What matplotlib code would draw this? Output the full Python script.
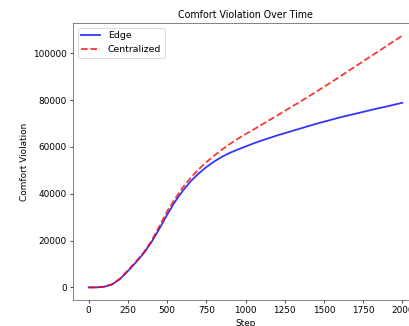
import matplotlib
matplotlib.use("Agg")
import matplotlib.pyplot as plt

steps = [0, 50, 100, 150, 200, 250, 300, 350, 400, 450, 500, 550, 600, 650, 700,
         750, 800, 850, 900, 950, 1000, 1050, 1100, 1150, 1200, 1250, 1300, 1350,
         1400, 1450, 1500, 1550, 1600, 1650, 1700, 1750, 1800, 1850, 1900, 1950, 2000]

edge = [0, 0, 300, 1300, 3600, 7000, 10600, 14500, 19300, 25000, 31000, 36600,
        41300, 45300, 48600, 51400, 53800, 55800, 57500, 58900, 60200, 61500,
        62700, 63800, 64900, 65900, 66900, 67900, 68900, 69900, 70800, 71700,
        72600, 73400, 74200, 75000, 75800, 76600, 77300, 78100, 78900]

centralized = [0, 0, 300, 1400, 3800, 7300, 10900, 14900, 19800, 26000, 32500,
               37800, 42700, 46800, 50400, 53500, 56300, 58900, 61300, 63500,
               65500, 67400, 69400, 71400, 73400, 75400, 77400, 79400, 81500,
               83600, 85700, 87800, 90000, 92200, 94400, 96600, 98800, 101000,
               103200, 105400, 107600]

fig = plt.figure(figsize=(409 / 64, 326 / 64), dpi=64)
ax = fig.add_axes([73 / 409, 26 / 326, 345 / 409, 277 / 326])
ax.plot(steps, edge, color="blue", alpha=0.8, linewidth=2, label="Edge")
ax.plot(steps, centralized, color="red", alpha=0.8, linewidth=2, linestyle="--", label="Centralized")
ax.set_title("Comfort Violation Over Time", fontsize=10.7)
ax.set_xlabel("Step")
ax.set_ylabel("Comfort Violation")
ax.set_xticks([0, 250, 500, 750, 1000, 1250, 1500, 1750, 2000])
ax.legend(loc="upper left", fontsize=10.6)
for s in ax.spines.values():
    s.set_edgecolor("#555555")
fig.savefig("out.png", dpi=64)
